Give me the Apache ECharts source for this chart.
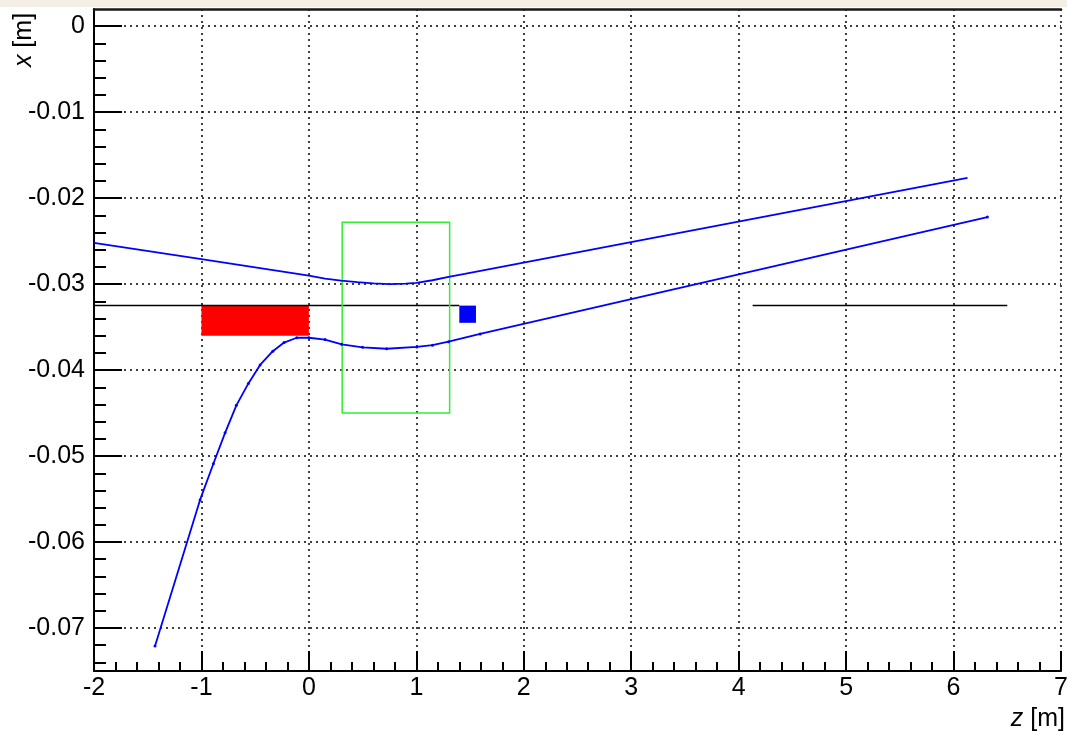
<!DOCTYPE html>
<html><head><meta charset="utf-8">
<script src="https://cdn.jsdelivr.net/npm/echarts@6/dist/echarts.min.js"></script>
<style>html,body{margin:0;padding:0;background:#fff}#c{width:1067px;height:731px}</style>
</head><body><div id="c"></div>
<script>
// ---- data (z [m], x [m]) ----
const upperZ = [-2, -1, 0, 0.15, 0.3, 0.45, 0.6, 0.75, 0.9, 1.0, 1.15, 1.3, 1.45, 6.13];
const upperX = [-0.0252, -0.0271, -0.0290, -0.02935, -0.0296, -0.02978, -0.02992, -0.0300, -0.02995, -0.02985, -0.02955, -0.02915, -0.0288, -0.01765];

const lowerZ = [-1.432, -1.013, -0.889, -0.780, -0.675, -0.563, -0.454, -0.336, -0.231, -0.113, 0.0, 0.15, 0.306, 0.5, 0.724, 1.004, 1.15, 1.30, 1.594, 6.315];
const lowerX = [-0.0721, -0.0551, -0.0509, -0.0473, -0.0441, -0.04155, -0.0394, -0.0378, -0.0368, -0.03624, -0.03624, -0.03645, -0.0370, -0.03735, -0.03752, -0.0373, -0.0371, -0.0367, -0.0358, -0.0222];

const redBox = [-1, -0.0325, 0, -0.0360];
const blueBox = [1.40, -0.0325, 1.555, -0.0345];
const greenBox = [0.31, -0.0228, 1.31, -0.0450];

const beamLineX = -0.0325;
const beamSegments = [[-2, 1.40], [4.13, 6.5]];

const zTicks = [-2, 7, 1];        // min, max, step
const xTicks = [-0.07, 0, 0.01];  // labelled range
const xRange = [-0.075, 0.002];

// ---- layout ----
const W = 1067, H = 731;
const gTop = 9, gBottom = 60, gLeft = 94, gRight = 6;
const gH = H - gTop - gBottom;
function pos(v) { return gTop + (xRange[1] - v) / (xRange[1] - xRange[0]) * gH; }

const FONT = "'Liberation Sans', Arial, Helvetica, sans-serif";
const black = '#000';
const tickStyle = { color: black, width: 2 };
const dotted = { type: [2, 4], color: black, width: 1.5 };

function pts(zs, xs) { return zs.map((z, i) => [z, xs[i]]); }

function rectSeries(box, fill, stroke, lw, z) {
  return {
    type: 'custom', xAxisIndex: 0, yAxisIndex: 0, z: z, silent: true,
    data: [box],
    encode: { x: [0, 2], y: [1, 3] },
    renderItem: function (params, api) {
      const p0 = api.coord([api.value(0), api.value(1)]);
      const p1 = api.coord([api.value(2), api.value(3)]);
      return {
        type: 'rect',
        shape: { x: Math.min(p0[0], p1[0]), y: Math.min(p0[1], p1[1]), width: Math.abs(p1[0] - p0[0]), height: Math.abs(p1[1] - p0[1]) },
        style: { fill: fill, stroke: stroke, lineWidth: lw }
      };
    }
  };
}

const chart = echarts.init(document.getElementById('c'), null, { renderer: 'canvas', width: W, height: H });

const series = [
  rectSeries(redBox, '#ff0000', null, 0, 2),
  rectSeries(blueBox, '#0000ff', null, 0, 2),
  rectSeries(greenBox, 'none', '#33ee33', 1.5, 4),
];
beamSegments.forEach(s => {
  series.push({
    type: 'line', xAxisIndex: 0, yAxisIndex: 0, z: 3, silent: true,
    data: [[s[0], beamLineX], [s[1], beamLineX]],
    showSymbol: false, lineStyle: { color: black, width: 1.5 }
  });
});
series.push({
  type: 'line', xAxisIndex: 0, yAxisIndex: 0, z: 5, silent: true,
  data: pts(upperZ, upperX), showSymbol: false,
  lineStyle: { color: '#0000ff', width: 1.8 }
});
series.push({
  type: 'line', xAxisIndex: 0, yAxisIndex: 0, z: 5, silent: true,
  data: pts(lowerZ, lowerX), showSymbol: true, symbol: 'circle', symbolSize: 3,
  itemStyle: { color: '#0000ff' },
  lineStyle: { color: '#0000ff', width: 1.8 }
});

const option = {
  backgroundColor: '#fff',
  animation: false,
  grid: [
    { left: gLeft, right: gRight, top: gTop, bottom: gBottom, outerBoundsMode: 'none', containLabel: false },
    { left: gLeft, right: gRight, top: pos(xTicks[1]), bottom: H - pos(xTicks[0]), outerBoundsMode: 'none', containLabel: false },
    { left: gLeft, right: gRight, top: pos(-0.07), bottom: H - pos(-0.074), outerBoundsMode: 'none', containLabel: false }
  ],
  xAxis: [
    {
      gridIndex: 0, type: 'value', min: zTicks[0], max: zTicks[1], interval: zTicks[2],
      axisLine: { onZero: false, lineStyle: { color: black, width: 2 } },
      axisTick: { inside: true, length: 20, lineStyle: tickStyle },
      minorTick: { show: true, splitNumber: 5, length: 9, lineStyle: tickStyle },
      axisLabel: { fontSize: 25, color: black, margin: 5, fontFamily: FONT },
      splitLine: { show: true, lineStyle: dotted }
    },
    {
      gridIndex: 0, type: 'value', position: 'top', min: zTicks[0], max: zTicks[1], interval: zTicks[2],
      axisLine: { onZero: false, lineStyle: { color: '#1a1a1a', width: 2.5 } },
      axisTick: { show: false }, axisLabel: { show: false }, splitLine: { show: false }
    },
    { gridIndex: 1, type: 'value', min: zTicks[0], max: zTicks[1], show: false },
    { gridIndex: 2, type: 'value', min: zTicks[0], max: zTicks[1], show: false }
  ],
  yAxis: [
    {
      gridIndex: 0, type: 'value', min: xRange[0], max: xRange[1],
      axisLine: { show: true, onZero: false, lineStyle: { color: black, width: 2 } },
      axisTick: { show: false }, axisLabel: { show: false }, splitLine: { show: false }
    },
    {
      gridIndex: 1, type: 'value', min: xTicks[0], max: xTicks[1], interval: xTicks[2],
      axisLine: { show: false, onZero: false },
      axisTick: { show: true, inside: true, length: 28, lineStyle: tickStyle },
      minorTick: { show: true, splitNumber: 5, length: 12, lineStyle: tickStyle },
      axisLabel: { fontSize: 25, color: black, margin: 9, fontFamily: FONT },
      splitLine: { show: true, lineStyle: dotted }
    },
    {
      gridIndex: 2, type: 'value', min: -0.074, max: -0.07, interval: 0.002,
      axisLine: { show: false, onZero: false },
      axisTick: { show: true, inside: true, length: 12, lineStyle: tickStyle },
      axisLabel: { show: false }, splitLine: { show: false }
    }
  ],
  graphic: [
    { type: 'rect', silent: true, z: -10, shape: { x: 0, y: 0, width: W, height: 7 }, style: { fill: '#f3eee6' } },
    {
      type: 'text', silent: true, x: 1065, y: 719,
      style: {
        text: '{i|z} [m]', fill: black, font: '25px ' + FONT, align: 'right', verticalAlign: 'middle',
        rich: { i: { fontStyle: 'italic', fontSize: 25, fontFamily: FONT, fill: black } }
      }
    },
    {
      type: 'text', silent: true, x: 24, y: 40, rotation: Math.PI / 2,
      style: {
        text: '{i|x} [m]', fill: black, font: '25px ' + FONT, align: 'center', verticalAlign: 'middle',
        rich: { i: { fontStyle: 'italic', fontSize: 25, fontFamily: FONT, fill: black } }
      }
    }
  ],
  series: series
};
chart.setOption(option);
</script>
</body></html>
